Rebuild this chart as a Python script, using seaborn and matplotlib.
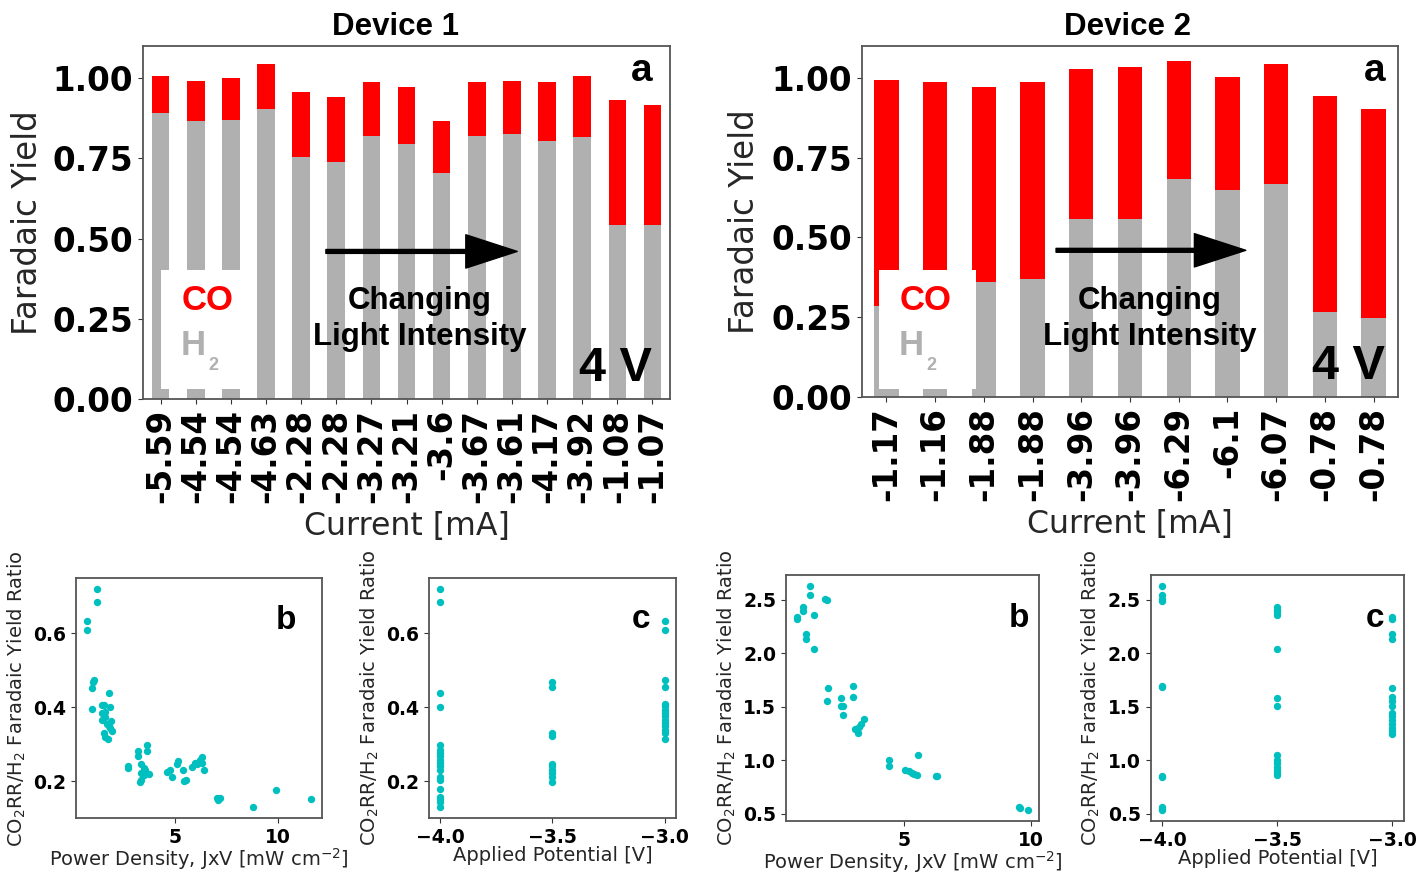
import numpy as np
import matplotlib
matplotlib.use("Agg")
import matplotlib.pyplot as plt
from matplotlib.patches import Rectangle
import seaborn as sns

# ---------------- data ----------------
# Device 1: stacked Faradaic yields per run (current in mA)
d1_current = ["-5.59", "-4.54", "-4.54", "-4.63", "-2.28", "-2.28", "-3.27", "-3.21",
              "-3.6", "-3.67", "-3.61", "-4.17", "-3.92", "-1.08", "-1.07"]
d1_h2 = [0.890, 0.865, 0.870, 0.905, 0.755, 0.740, 0.820, 0.795,
         0.705, 0.820, 0.825, 0.805, 0.815, 0.542, 0.542]
d1_co = [0.116, 0.127, 0.131, 0.138, 0.202, 0.201, 0.167, 0.176,
         0.160, 0.167, 0.167, 0.182, 0.191, 0.389, 0.375]

# Device 2
d2_current = ["-1.17", "-1.16", "-1.88", "-1.88", "-3.96", "-3.96", "-6.29", "-6.1",
              "-6.07", "-0.78", "-0.78"]
d2_h2 = [0.285, 0.280, 0.360, 0.371, 0.558, 0.558, 0.684, 0.649, 0.669, 0.265, 0.249]
d2_co = [0.708, 0.708, 0.613, 0.617, 0.471, 0.475, 0.370, 0.353, 0.374, 0.678, 0.653]

# Device 1: CO2RR/H2 ratio vs power density
d1_power = [0.73, 0.73, 1.185, 1.185, 0.96, 1.02, 1.07, 0.96,
            1.77, 1.44, 1.53, 1.83, 1.43, 1.59, 1.43, 1.61, 1.67, 1.79, 1.88, 1.93,
            1.54, 1.57, 1.75, 1.83,
            2.69, 2.71, 3.17, 3.17, 3.64, 3.64, 3.36, 3.46, 3.33, 3.30, 3.34, 3.46, 3.51,
            3.75, 4.61, 4.76, 4.85, 5.10, 5.13, 5.39, 5.42, 5.52,
            5.81, 5.94, 6.06, 6.18, 6.28, 6.30, 6.40, 7.00, 7.06, 7.16, 8.75, 9.89, 11.56]
d1_ratio_b = [0.632, 0.609, 0.719, 0.685, 0.453, 0.469, 0.474, 0.395,
              0.438, 0.406, 0.405, 0.400, 0.384, 0.388, 0.366, 0.373, 0.355, 0.350, 0.363, 0.337,
              0.330, 0.321, 0.314, 0.343,
              0.242, 0.236, 0.283, 0.268, 0.297, 0.281, 0.247, 0.235, 0.222, 0.199, 0.205, 0.217, 0.231,
              0.219, 0.226, 0.231, 0.213, 0.247, 0.256, 0.231, 0.202, 0.204,
              0.240, 0.250, 0.247, 0.258, 0.265, 0.250, 0.232, 0.156, 0.150, 0.154, 0.130, 0.177, 0.153]

# Device 1: ratio vs applied potential
d1_ratio_m40 = [0.719, 0.685, 0.438, 0.400, 0.298, 0.285, 0.276, 0.267, 0.258, 0.249,
                0.240, 0.231, 0.211, 0.202, 0.178, 0.157, 0.151, 0.145, 0.130]
d1_ratio_m35 = [0.469, 0.453, 0.330, 0.321, 0.247, 0.240, 0.231, 0.222, 0.211, 0.199]
d1_ratio_m30 = [0.632, 0.609, 0.474, 0.453, 0.408, 0.402, 0.393, 0.384, 0.375, 0.366,
                0.357, 0.348, 0.339, 0.330, 0.314]

# Device 2: ratio vs power density
d2_power = [0.83, 0.83, 1.03, 1.03, 1.18, 1.18, 1.33, 1.33, 1.49, 1.49,
            1.92, 1.97, 2.03, 1.99, 2.53, 2.53, 2.62, 2.61,
            3.03, 3.00, 3.09, 3.21, 3.25, 3.32, 3.46, 4.42, 4.42,
            5.04, 5.20, 5.33, 5.42, 5.51, 5.55, 6.26, 6.33, 9.54, 9.58, 9.88]
d2_ratio_b = [2.338, 2.320, 2.430, 2.390, 2.180, 2.130, 2.625, 2.540, 2.360, 2.040,
              2.506, 2.500, 1.670, 1.550, 1.580, 1.510, 1.510, 1.420,
              1.690, 1.590, 1.290, 1.250, 1.310, 1.340, 1.380, 1.000, 0.947,
              0.912, 0.897, 0.884, 0.875, 0.866, 1.047, 0.853, 0.850, 0.562, 0.553, 0.537]

# Device 2: ratio vs applied potential
d2_ratio_m40 = [2.625, 2.540, 2.506, 2.490, 1.690, 1.680, 0.856, 0.844, 0.562, 0.537, 0.553]
d2_ratio_m35 = [2.430, 2.406, 2.380, 2.360, 2.040, 1.580, 1.510, 1.050, 1.000, 0.970,
                0.940, 0.910, 0.880, 0.860]
d2_ratio_m30 = [2.340, 2.320, 2.180, 2.130, 1.670, 1.590, 1.550, 1.510, 1.440, 1.410,
                1.375, 1.340, 1.300, 1.270, 1.240]

potentials = [-4.0, -3.5, -3.0]
potential_labels = ["\u22124.0", "\u22123.5", "\u22123.0"]

# ---------------- style ----------------
sns.set_style("ticks")
plt.rcParams["font.family"] = ["DejaVu Sans"]
plt.rcParams["text.color"] = "black"
plt.rcParams["axes.edgecolor"] = "#555555"
plt.rcParams["axes.linewidth"] = 1.3
plt.rcParams["xtick.color"] = "#333333"
plt.rcParams["ytick.color"] = "#333333"
plt.rcParams["xtick.major.size"] = 3.5
plt.rcParams["ytick.major.size"] = 3.5
plt.rcParams["xtick.major.pad"] = 3.5
plt.rcParams["ytick.major.pad"] = 3.5

RED = "#ff0000"
GREY = "#b0b0b0"
TEAL = "#00bfbf"
ARIAL = "Liberation Sans"
LABEL_COLOR = "#262626"

fig = plt.figure(figsize=(14.19, 8.73), dpi=100)


def bar_panel(rect, currents, h2, co, arrow_x, box, co_xy, h_xy, sub_xy, chg_xy, v_x):
    ax = fig.add_axes(rect)
    h2 = np.asarray(h2)
    total = h2 + np.asarray(co)
    pos = [str(i) for i in range(len(currents))]
    sns.barplot(x=pos, y=total, color=RED, saturation=1, width=0.5,
                errorbar=None, linewidth=0, ax=ax)
    sns.barplot(x=pos, y=h2, color=GREY, saturation=1, width=0.5,
                errorbar=None, linewidth=0, ax=ax)
    ax.set_ylim(0, 1.10)
    ax.set_xlim(-0.5, len(currents) - 0.5)
    ax.set_xticks(range(len(currents)), labels=currents, rotation=90,
                  fontweight="bold", fontsize=23.5, color="black")
    yt = [0.0, 0.25, 0.5, 0.75, 1.0]
    ax.set_yticks(yt, labels=[f"{v:.2f}" for v in yt], fontweight="bold",
                  fontsize=23.5, color="black")
    ax.set_xlabel("Current [mA]", fontsize=22.8, color=LABEL_COLOR)
    ax.set_ylabel("Faradaic Yield", fontsize=23.5, color=LABEL_COLOR)
    ax.xaxis.set_label_coords(0.5, -0.318)
    ax.yaxis.set_label_coords(-0.188, 0.5)
    for sp in ax.spines.values():
        sp.set_visible(True)

    # label box naming the two products
    ax.add_patch(Rectangle((box[0], box[1]), box[2], box[3], transform=ax.transAxes,
                           facecolor="white", edgecolor="none", zorder=3))
    ax.text(*co_xy, "CO", transform=ax.transAxes, color=RED, fontsize=25,
            fontweight="bold", family=ARIAL, ha="center", va="center", zorder=4)
    ax.text(*h_xy, "H", transform=ax.transAxes, color=GREY, fontsize=25,
            fontweight="bold", family=ARIAL, ha="center", va="center", zorder=4)
    ax.text(*sub_xy, "2", transform=ax.transAxes, color=GREY, fontsize=13,
            fontweight="bold", family=ARIAL, ha="center", va="center", zorder=4)

    ax.text(*chg_xy, "Changing\nLight Intensity", transform=ax.transAxes,
            fontsize=22.5, fontweight="bold", family=ARIAL, ha="center",
            va="center", linespacing=1.25, color="black", zorder=4)
    ax.text(v_x, 0.052, "4 V", transform=ax.transAxes, fontsize=35,
            fontweight="bold", family=ARIAL, ha="right", va="baseline",
            color="black", zorder=4)
    ax.text(v_x - 0.02, 0.93, "a", transform=ax.transAxes, fontsize=28,
            fontweight="bold", family=ARIAL, ha="center", va="center",
            color="black", zorder=4)

    ax.annotate("", xy=(arrow_x[1], 0.418), xytext=(arrow_x[0], 0.418),
                xycoords="axes fraction", textcoords="axes fraction",
                arrowprops=dict(facecolor="black", edgecolor="black", width=2.8,
                                headwidth=24, headlength=37, shrink=0), zorder=5)
    return ax


ax1 = bar_panel([0.1008, 0.5430, 0.3714, 0.4043], d1_current, d1_h2, d1_co,
                (0.347, 0.710), (0.034, 0.028, 0.183, 0.337),
                (0.123, 0.280), (0.095, 0.152), (0.133, 0.095), (0.525, 0.226), 0.966)
ax2 = bar_panel([0.6075, 0.5452, 0.3777, 0.4021], d2_current, d2_h2, d2_co,
                (0.362, 0.716), (0.032, 0.023, 0.181, 0.339),
                (0.119, 0.276), (0.091, 0.148), (0.129, 0.091), (0.537, 0.222), 0.976)

fig.text(395 / 1419, 0.9685, "Device 1", fontsize=22.5, fontweight="bold",
         family=ARIAL, ha="center", va="center", color="black")
fig.text(1128 / 1419, 0.9685, "Device 2", fontsize=22.5, fontweight="bold",
         family=ARIAL, ha="center", va="center", color="black")

YLAB = "CO$_2$RR/H$_2$ Faradaic Yield Ratio"


def style_scatter(ax, letter, letter_x):
    for sp in ax.spines.values():
        sp.set_visible(True)
    ax.set_ylabel(YLAB, fontsize=14, color=LABEL_COLOR)
    ax.xaxis.set_label_coords(0.5, -0.115)
    ax.text(letter_x, 0.79, letter, transform=ax.transAxes, fontsize=24,
            fontweight="bold", family=ARIAL, ha="center", va="baseline",
            color="black")


def power_panel(rect, power, ratio, yticks, letter_x):
    ax = fig.add_axes(rect)
    sns.scatterplot(x=power, y=ratio, color=TEAL, s=28, linewidth=0, ax=ax)
    ax.set_xticks([5, 10], labels=["5", "10"], fontweight="bold", fontsize=13.5,
                  color="black")
    ax.set_yticks(yticks, labels=[f"{v:.1f}" for v in yticks], fontweight="bold",
                  fontsize=13.5, color="black")
    ax.set_xlabel("Power Density, JxV [mW cm$^{-2}$]", fontsize=14, color=LABEL_COLOR)
    style_scatter(ax, "b", letter_x)
    return ax


def potential_panel(rect, groups, yticks, letter_x):
    ax = fig.add_axes(rect)
    xs, ys = [], []
    for p, vals in zip(potentials, groups):
        xs += [p] * len(vals)
        ys += list(vals)
    sns.scatterplot(x=xs, y=ys, color=TEAL, s=28, linewidth=0, ax=ax)
    ax.set_xticks(potentials, labels=potential_labels, fontweight="bold",
                  fontsize=13.5, color="black")
    ax.set_yticks(yticks, labels=[f"{v:.1f}" for v in yticks], fontweight="bold",
                  fontsize=13.5, color="black")
    ax.set_xlabel("Applied Potential [V]", fontsize=14, color=LABEL_COLOR)
    style_scatter(ax, "c", letter_x)
    return ax


y1 = [0.2, 0.4, 0.6]
y2 = [0.5, 1.0, 1.5, 2.0, 2.5]
power_panel([0.0536, 0.0627, 0.1731, 0.2749], d1_power, d1_ratio_b, y1, 0.855)
potential_panel([0.3023, 0.0630, 0.1739, 0.2749],
                [d1_ratio_m40, d1_ratio_m35, d1_ratio_m30], y1, 0.86)
power_panel([0.5539, 0.0596, 0.1785, 0.2818], d2_power, d2_ratio_b, y2, 0.92)
potential_panel([0.8109, 0.0596, 0.1785, 0.2818],
                [d2_ratio_m40, d2_ratio_m35, d2_ratio_m30], y2, 0.885)

fig.savefig("out.png", dpi=100)
